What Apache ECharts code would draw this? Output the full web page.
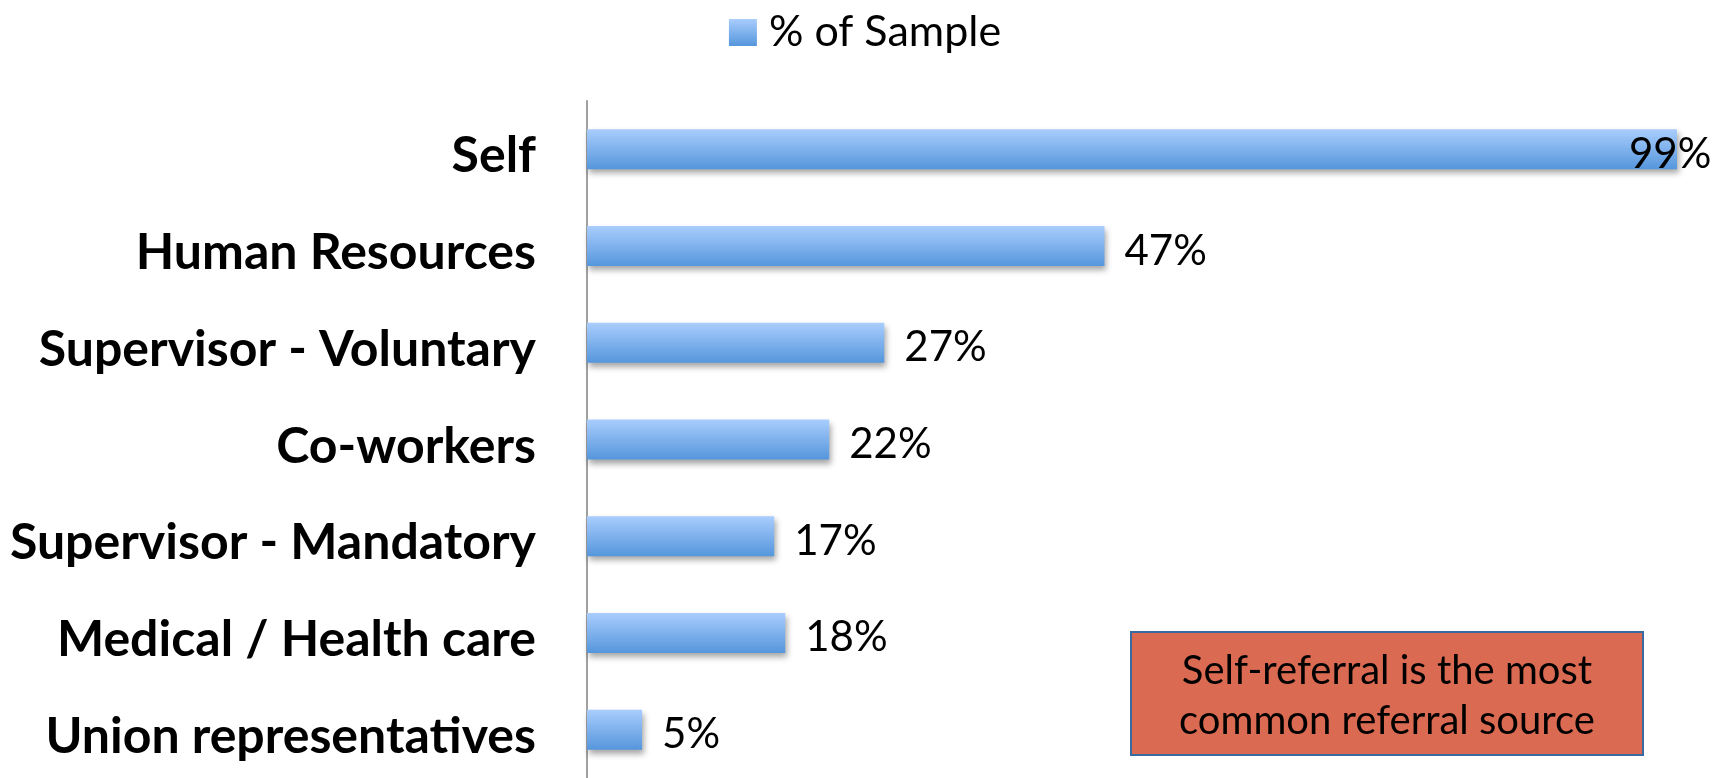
<!DOCTYPE html>
<html><head><meta charset="utf-8">
<script src="https://cdn.jsdelivr.net/npm/echarts@6/dist/echarts.min.js"></script>
<style>html,body{margin:0;padding:0;background:#fff}#c{width:1730px;height:778px}</style>
</head><body><div id="c"></div>
<script>
const categories = ["Self","Human Resources","Supervisor - Voluntary","Co-workers","Supervisor - Mandatory","Medical / Health care","Union representatives"];
const values = [99,47,27,22,17,18,5];
const seriesName = "% of Sample";
const noteText = "Self-referral is the most\ncommon referral source";

const FONT = "Lato";
const chart = echarts.init(document.getElementById('c'));
const barColor = new echarts.graphic.LinearGradient(0,0,0,1,[{offset:0,color:'#a9cdfd'},{offset:1,color:'#5596dc'}]);
chart.setOption({
  animation:false,
  legend:{top:6,left:'center',icon:'rect',itemWidth:28,itemHeight:27,itemGap:12,
    textStyle:{fontFamily:FONT,fontSize:43,color:'#000',padding:[0,0,0,7]},data:[seriesName]},
  grid:{left:587,right:42,top:101,height:682.5,containLabel:false},
  xAxis:{type:'value',min:0,max:100,show:false},
  yAxis:{type:'category',inverse:true,data:categories,
    axisLine:{show:true,lineStyle:{color:'#a0a0a0',width:2}},
    axisTick:{show:false},
    axisLabel:{margin:51,formatter:'{a|{value}}',
      rich:{a:{fontFamily:FONT,fontWeight:'bold',fontSize:50,color:'#000',padding:[14,0,0,0]}}}},
  series:[{type:'bar',name:seriesName,barWidth:40,
    data:values.map((v,i)=>i===0?{value:v,label:{offset:[-68,5]}}:v),
    itemStyle:{color:barColor,shadowColor:'rgba(0,0,0,0.35)',shadowBlur:6,shadowOffsetX:2,shadowOffsetY:4},
    label:{show:true,position:'right',distance:20,offset:[0,5],formatter:'{c}%',fontFamily:FONT,fontSize:42,color:'#000'}}],
  graphic:[{type:'group',left:1130,top:631,children:[
    {type:'rect',shape:{x:0,y:0,width:512,height:123},style:{fill:'#da6a51',stroke:'#3b6aa0',lineWidth:2}},
    {type:'text',x:256,y:64,style:{text:noteText,fontFamily:FONT,fontSize:40,lineHeight:50,fill:'#000',align:'center',verticalAlign:'middle'}}
  ]}]
});
</script></body></html>
